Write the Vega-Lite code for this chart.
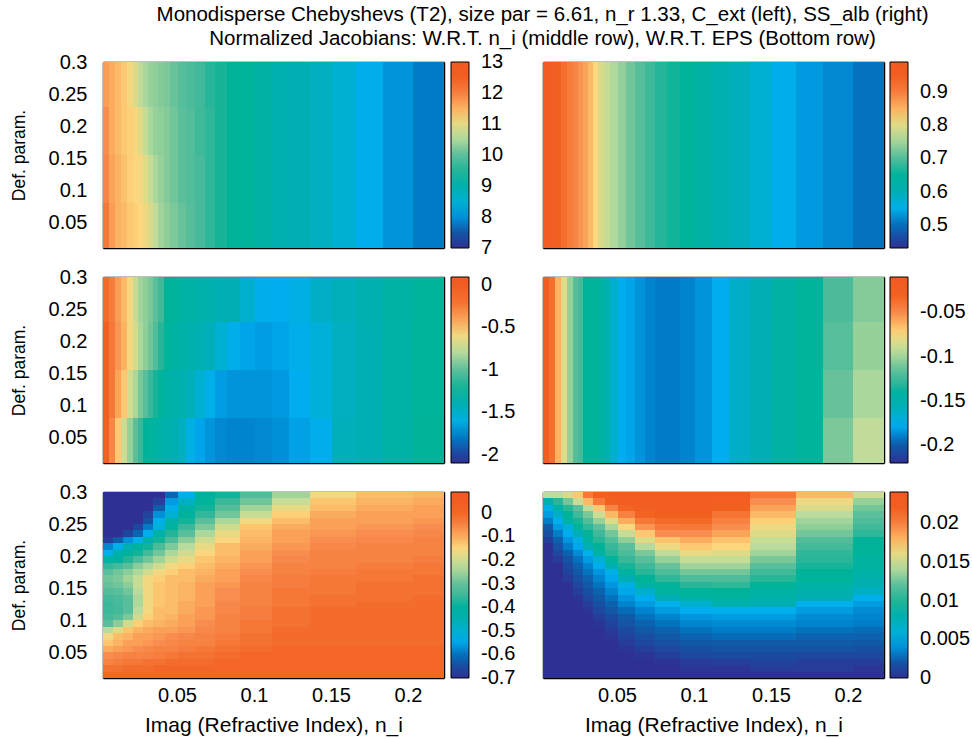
{"$schema":"https://vega.github.io/schema/vega-lite/v6.json","padding":{"left":10,"top":4,"right":0,"bottom":6},"background":"white",
"title":{"text":["Monodisperse Chebyshevs (T2), size par = 6.61, n_r 1.33, C_ext (left), SS_alb (right)","Normalized Jacobians: W.R.T. n_i (middle row), W.R.T. EPS (Bottom row)"],"fontSize":20.5,"font":"Liberation Sans","fontWeight":"normal","color":"black","anchor":"middle","dx":52,"offset":3,"lineHeight":24},
"config":{"font":"Liberation Sans","view":{"stroke":null},"range":{"heatmap":["#2e3192","#0f5ba8","#00aeef","#00aeb4","#00b398","#5cbf9c","#bcdc9e","#fdd67e","#f88d4f","#f2601f","#f15a24"],"ramp":["#2e3192","#0f5ba8","#00aeef","#00aeb4","#00b398","#5cbf9c","#bcdc9e","#fdd67e","#f88d4f","#f2601f","#f15a24"]},"axis":{"grid":false,"domain":true,"domainColor":"black","domainWidth":1.5,"zindex":1,"tickColor":"black","tickSize":-12,"tickWidth":1,"labelFontSize":20,"labelColor":"black","titleColor":"black","titleFontWeight":"normal","labelFlush":false,"labelBound":false,"labelOverlap":false},"axisX":{"labelPadding":19,"titlePadding":9,"titleFontSize":21},"axisY":{"labelPadding":28,"titlePadding":20,"titleFontSize":17.5},"legend":{"gradientLength":186,"gradientThickness":18,"gradientStrokeColor":"black","gradientStrokeWidth":1,"labelFontSize":20,"labelColor":"black","padding":0,"offset":6,"title":null}},
"datasets":{"cols":[{"c":1,"x":0.0021,"x2":0.0086},{"c":2,"x":0.0086,"x2":0.0151},{"c":3,"x":0.0151,"x2":0.0216},{"c":4,"x":0.0216,"x2":0.0281},{"c":5,"x":0.0281,"x2":0.0346},{"c":6,"x":0.0346,"x2":0.0424},{"c":7,"x":0.0424,"x2":0.0508},{"c":8,"x":0.0508,"x2":0.0618},{"c":9,"x":0.0618,"x2":0.0748},{"c":10,"x":0.0748,"x2":0.0911},{"c":11,"x":0.0911,"x2":0.1118},{"c":12,"x":0.1118,"x2":0.1365},{"c":13,"x":0.1365,"x2":0.1664},{"c":14,"x":0.1664,"x2":0.2034},{"c":15,"x":0.2034,"x2":0.2235},{"c":16,"x":0.0021,"x2":0.2235},
{"c":21,"x":0.0021,"x2":0.006},{"c":22,"x":0.006,"x2":0.0099},{"c":23,"x":0.0099,"x2":0.0138},{"c":24,"x":0.0138,"x2":0.0177},{"c":25,"x":0.0177,"x2":0.0216},{"c":26,"x":0.0216,"x2":0.0248},{"c":27,"x":0.0248,"x2":0.0281},{"c":28,"x":0.0281,"x2":0.0313},{"c":29,"x":0.0313,"x2":0.0346},{"c":30,"x":0.0346,"x2":0.0378},{"c":31,"x":0.0378,"x2":0.0417},{"c":32,"x":0.0417,"x2":0.0456},{"c":33,"x":0.0456,"x2":0.0508},{"c":34,"x":0.0508,"x2":0.056},{"c":35,"x":0.056,"x2":0.0618},{"c":36,"x":0.0618,"x2":0.0683},{"c":37,"x":0.0683,"x2":0.0748},{"c":38,"x":0.0748,"x2":0.0826},{"c":39,"x":0.0826,"x2":0.0911},{"c":40,"x":0.0911,"x2":0.1008},{"c":41,"x":0.1008,"x2":0.1118},{"c":42,"x":0.1118,"x2":0.1229},{"c":43,"x":0.1229,"x2":0.1365},{"c":44,"x":0.1365,"x2":0.1508},{"c":45,"x":0.1508,"x2":0.1664},{"c":46,"x":0.1664,"x2":0.1839},{"c":47,"x":0.1839,"x2":0.2034},{"c":48,"x":0.2034,"x2":0.2235},
{"c":52,"x":0.0021,"x2":0.0151},{"c":53,"x":0.0021,"x2":0.0216},{"c":54,"x":0.0021,"x2":0.0281},{"c":55,"x":0.0021,"x2":0.0346},{"c":56,"x":0.0021,"x2":0.0424},{"c":57,"x":0.0021,"x2":0.0508},{"c":58,"x":0.0021,"x2":0.0618},{"c":59,"x":0.0021,"x2":0.0748},{"c":60,"x":0.0021,"x2":0.0911}],
"bands":[{"d":1,"y":0.01,"y2":0.02},{"d":2,"y":0.02,"y2":0.03},{"d":3,"y":0.03,"y2":0.04},{"d":4,"y":0.04,"y2":0.05},{"d":5,"y":0.05,"y2":0.06},{"d":6,"y":0.06,"y2":0.07},{"d":7,"y":0.07,"y2":0.08},{"d":8,"y":0.08,"y2":0.09},{"d":9,"y":0.09,"y2":0.1},{"d":10,"y":0.1,"y2":0.11},{"d":11,"y":0.11,"y2":0.12},{"d":12,"y":0.12,"y2":0.13},{"d":13,"y":0.13,"y2":0.14},{"d":14,"y":0.14,"y2":0.15},{"d":15,"y":0.15,"y2":0.16},{"d":16,"y":0.16,"y2":0.17},{"d":17,"y":0.17,"y2":0.18},{"d":18,"y":0.18,"y2":0.19},{"d":19,"y":0.19,"y2":0.2},{"d":20,"y":0.2,"y2":0.21},{"d":21,"y":0.21,"y2":0.22},{"d":22,"y":0.22,"y2":0.23},{"d":23,"y":0.23,"y2":0.24},{"d":24,"y":0.24,"y2":0.25},{"d":25,"y":0.25,"y2":0.26},{"d":26,"y":0.26,"y2":0.27},{"d":27,"y":0.27,"y2":0.28},{"d":28,"y":0.28,"y2":0.29},{"d":29,"y":0.29,"y2":0.3},{"d":31,"y":0.01,"y2":0.08},{"d":32,"y":0.08,"y2":0.155},{"d":33,"y":0.155,"y2":0.23},{"d":34,"y":0.23,"y2":0.3},{"d":35,"y":0.01,"y2":0.3}],
"p1":[{"c":21,"d":34,"v":11.68},{"c":22,"d":34,"v":11.56},{"c":23,"d":34,"v":11.44},{"c":24,"d":34,"v":11.32},{"c":25,"d":34,"v":11.14},{"c":26,"d":34,"v":10.9},{"c":27,"d":34,"v":10.66},{"c":28,"d":34,"v":10.48},{"c":29,"d":34,"v":10.36},{"c":30,"d":34,"v":10.3},{"c":31,"d":34,"v":10.24},{"c":32,"d":34,"v":10.18},{"c":33,"d":34,"v":10.06},{"c":34,"d":34,"v":9.94},{"c":35,"d":34,"v":9.82},{"c":36,"d":34,"v":9.7},{"c":37,"d":34,"v":9.52},
{"c":21,"d":33,"v":11.8},{"c":22,"d":33,"v":11.56},{"c":23,"d":33,"v":11.44},{"c":24,"d":33,"v":11.32},{"c":25,"d":33,"v":11.26},{"c":26,"d":33,"v":11.14},{"c":27,"d":33,"v":10.96},{"c":28,"d":33,"v":10.72},{"c":29,"d":33,"v":10.48},{"c":30,"d":33,"v":10.36},{"c":31,"d":33,"v":10.3},{"c":32,"d":33,"v":10.24},{"c":33,"d":33,"v":10.12},{"c":34,"d":33,"v":10},{"c":35,"d":33,"v":9.88},{"c":36,"d":33,"v":9.7},{"c":37,"d":33,"v":9.58},
{"c":21,"d":32,"v":11.92},{"c":22,"d":32,"v":11.62},{"c":23,"d":32,"v":11.5},{"c":24,"d":32,"v":11.38},{"c":25,"d":32,"v":11.26},{"c":26,"d":32,"v":11.2},{"c":27,"d":32,"v":11.14},{"c":28,"d":32,"v":10.96},{"c":29,"d":32,"v":10.72},{"c":30,"d":32,"v":10.48},{"c":31,"d":32,"v":10.36},{"c":32,"d":32,"v":10.24},{"c":33,"d":32,"v":10.12},{"c":34,"d":32,"v":10},{"c":35,"d":32,"v":9.88},{"c":36,"d":32,"v":9.76},{"c":37,"d":32,"v":9.58},
{"c":21,"d":31,"v":12.1},{"c":22,"d":31,"v":11.68},{"c":23,"d":31,"v":11.5},{"c":24,"d":31,"v":11.44},{"c":25,"d":31,"v":11.32},{"c":26,"d":31,"v":11.26},{"c":27,"d":31,"v":11.2},{"c":28,"d":31,"v":11.08},{"c":29,"d":31,"v":10.9},{"c":30,"d":31,"v":10.66},{"c":31,"d":31,"v":10.42},{"c":32,"d":31,"v":10.3},{"c":33,"d":31,"v":10.18},{"c":34,"d":31,"v":10.06},{"c":35,"d":31,"v":9.94},{"c":36,"d":31,"v":9.76},{"c":37,"d":31,"v":9.58},
{"c":38,"d":35,"v":9.46},{"c":39,"d":35,"v":9.4},{"c":40,"d":35,"v":9.34},{"c":41,"d":35,"v":9.16},{"c":42,"d":35,"v":8.92},{"c":43,"d":35,"v":8.8},{"c":44,"d":35,"v":8.68},{"c":45,"d":35,"v":8.5},{"c":46,"d":35,"v":8.23},{"c":47,"d":35,"v":8.02},{"c":48,"d":35,"v":7.84}],
"p2":[{"c":21,"d":35,"v":0.968},{"c":22,"d":35,"v":0.962},{"c":23,"d":35,"v":0.934},{"c":24,"d":35,"v":0.917},{"c":25,"d":35,"v":0.9},{"c":26,"d":35,"v":0.889},{"c":27,"d":35,"v":0.872},{"c":28,"d":35,"v":0.861},{"c":29,"d":35,"v":0.844},{"c":30,"d":35,"v":0.822},{"c":31,"d":35,"v":0.794},{"c":32,"d":35,"v":0.777},{"c":33,"d":35,"v":0.758},{"c":34,"d":35,"v":0.741},{"c":35,"d":35,"v":0.721},{"c":36,"d":35,"v":0.704},{"c":37,"d":35,"v":0.682},{"c":38,"d":35,"v":0.665},{"c":39,"d":35,"v":0.657},{"c":40,"d":35,"v":0.648},{"c":41,"d":35,"v":0.632},{"c":42,"d":35,"v":0.609},{"c":43,"d":35,"v":0.592},{"c":44,"d":35,"v":0.57},{"c":45,"d":35,"v":0.545},{"c":46,"d":35,"v":0.528},{"c":47,"d":35,"v":0.517},{"c":48,"d":35,"v":0.503}],
"p3":[{"c":21,"d":34,"v":-0.168},{"c":22,"d":34,"v":-0.256},{"c":23,"d":34,"v":-0.388},{"c":24,"d":34,"v":-0.476},{"c":25,"d":34,"v":-0.585},{"c":26,"d":34,"v":-0.739},{"c":27,"d":34,"v":-0.849},{"c":28,"d":34,"v":-0.893},{"c":29,"d":34,"v":-0.937},{"c":30,"d":34,"v":-1.003},{"c":31,"d":34,"v":-1.112},{"c":32,"d":34,"v":-1.222},{"c":33,"d":34,"v":-1.244},{"c":34,"d":34,"v":-1.288},{"c":35,"d":34,"v":-1.31},{"c":36,"d":34,"v":-1.354},{"c":37,"d":34,"v":-1.376},{"c":38,"d":34,"v":-1.42},{"c":39,"d":34,"v":-1.442},{"c":40,"d":34,"v":-1.529},{"c":41,"d":34,"v":-1.65},{"c":42,"d":34,"v":-1.661},{"c":43,"d":34,"v":-1.617},{"c":44,"d":34,"v":-1.507},{"c":45,"d":34,"v":-1.463},{"c":46,"d":34,"v":-1.398},{"c":47,"d":34,"v":-1.288},{"c":48,"d":34,"v":-1.244},
{"c":21,"d":33,"v":-0.125},{"c":22,"d":33,"v":-0.234},{"c":23,"d":33,"v":-0.366},{"c":24,"d":33,"v":-0.454},{"c":25,"d":33,"v":-0.585},{"c":26,"d":33,"v":-0.695},{"c":27,"d":33,"v":-0.827},{"c":28,"d":33,"v":-0.893},{"c":29,"d":33,"v":-0.959},{"c":30,"d":33,"v":-1.046},{"c":31,"d":33,"v":-1.178},{"c":32,"d":33,"v":-1.244},{"c":33,"d":33,"v":-1.288},{"c":34,"d":33,"v":-1.332},{"c":35,"d":33,"v":-1.376},{"c":36,"d":33,"v":-1.42},{"c":37,"d":33,"v":-1.463},{"c":38,"d":33,"v":-1.551},{"c":39,"d":33,"v":-1.639},{"c":40,"d":33,"v":-1.683},{"c":41,"d":33,"v":-1.705},{"c":42,"d":33,"v":-1.683},{"c":43,"d":33,"v":-1.639},{"c":44,"d":33,"v":-1.573},{"c":45,"d":33,"v":-1.485},{"c":46,"d":33,"v":-1.42},{"c":47,"d":33,"v":-1.31},{"c":48,"d":33,"v":-1.244},
{"c":21,"d":32,"v":-0.125},{"c":22,"d":32,"v":-0.234},{"c":23,"d":32,"v":-0.41},{"c":24,"d":32,"v":-0.52},{"c":25,"d":32,"v":-0.695},{"c":26,"d":32,"v":-0.827},{"c":27,"d":32,"v":-0.937},{"c":28,"d":32,"v":-1.024},{"c":29,"d":32,"v":-1.134},{"c":30,"d":32,"v":-1.2},{"c":31,"d":32,"v":-1.244},{"c":32,"d":32,"v":-1.31},{"c":33,"d":32,"v":-1.354},{"c":34,"d":32,"v":-1.398},{"c":35,"d":32,"v":-1.463},{"c":36,"d":32,"v":-1.551},{"c":37,"d":32,"v":-1.639},{"c":38,"d":32,"v":-1.705},{"c":39,"d":32,"v":-1.727},{"c":40,"d":32,"v":-1.727},{"c":41,"d":32,"v":-1.727},{"c":42,"d":32,"v":-1.716},{"c":43,"d":32,"v":-1.661},{"c":44,"d":32,"v":-1.573},{"c":45,"d":32,"v":-1.485},{"c":46,"d":32,"v":-1.42},{"c":47,"d":32,"v":-1.31},{"c":48,"d":32,"v":-1.244},
{"c":21,"d":31,"v":-0.125},{"c":22,"d":31,"v":-0.3},{"c":23,"d":31,"v":-0.52},{"c":24,"d":31,"v":-0.717},{"c":25,"d":31,"v":-0.871},{"c":26,"d":31,"v":-1.003},{"c":27,"d":31,"v":-1.134},{"c":28,"d":31,"v":-1.222},{"c":29,"d":31,"v":-1.244},{"c":30,"d":31,"v":-1.288},{"c":31,"d":31,"v":-1.332},{"c":32,"d":31,"v":-1.376},{"c":33,"d":31,"v":-1.42},{"c":34,"d":31,"v":-1.485},{"c":35,"d":31,"v":-1.617},{"c":36,"d":31,"v":-1.683},{"c":37,"d":31,"v":-1.727},{"c":38,"d":31,"v":-1.76},{"c":39,"d":31,"v":-1.771},{"c":40,"d":31,"v":-1.771},{"c":41,"d":31,"v":-1.76},{"c":42,"d":31,"v":-1.738},{"c":43,"d":31,"v":-1.694},{"c":44,"d":31,"v":-1.65},{"c":45,"d":31,"v":-1.463},{"c":46,"d":31,"v":-1.42},{"c":47,"d":31,"v":-1.31},{"c":48,"d":31,"v":-1.222}],
"p4":[{"c":21,"d":35,"v":-0.0247},{"c":22,"d":35,"v":-0.0373},{"c":23,"d":35,"v":-0.0625},{"c":24,"d":35,"v":-0.0814},{"c":25,"d":35,"v":-0.1024},{"c":26,"d":35,"v":-0.1171},{"c":27,"d":35,"v":-0.1234},{"c":28,"d":35,"v":-0.136},{"c":29,"d":35,"v":-0.136},{"c":30,"d":35,"v":-0.136},{"c":31,"d":35,"v":-0.1423},{"c":32,"d":35,"v":-0.1528},{"c":33,"d":35,"v":-0.1654},{"c":34,"d":35,"v":-0.178},{"c":35,"d":35,"v":-0.1801},{"c":36,"d":35,"v":-0.1843},{"c":37,"d":35,"v":-0.1885},{"c":38,"d":35,"v":-0.1906},{"c":39,"d":35,"v":-0.1906},{"c":40,"d":35,"v":-0.1885},{"c":41,"d":35,"v":-0.1843},{"c":42,"d":35,"v":-0.178},{"c":43,"d":35,"v":-0.1633},{"c":44,"d":35,"v":-0.157},{"c":45,"d":35,"v":-0.1444},{"c":46,"d":35,"v":-0.1381},
{"c":47,"d":34,"v":-0.1213},{"c":47,"d":33,"v":-0.1171},{"c":47,"d":32,"v":-0.1129},{"c":47,"d":31,"v":-0.1087},{"c":48,"d":34,"v":-0.1066},{"c":48,"d":33,"v":-0.1024},{"c":48,"d":32,"v":-0.0982},{"c":48,"d":31,"v":-0.0919}],
"p5":[{"c":56,"d":29,"v":-0.7},{"c":7,"d":29,"v":-0.61},{"c":8,"d":29,"v":-0.53},{"c":9,"d":29,"v":-0.4},{"c":10,"d":29,"v":-0.38},{"c":11,"d":29,"v":-0.32},{"c":12,"d":29,"v":-0.25},{"c":13,"d":29,"v":-0.16},{"c":14,"d":29,"v":-0.12},{"c":15,"d":29,"v":-0.11},
{"c":55,"d":28,"v":-0.7},{"c":6,"d":28,"v":-0.67},{"c":7,"d":28,"v":-0.56},{"c":8,"d":28,"v":-0.48},{"c":9,"d":28,"v":-0.39},{"c":10,"d":28,"v":-0.35},{"c":11,"d":28,"v":-0.29},{"c":12,"d":28,"v":-0.21},{"c":13,"d":28,"v":-0.13},{"c":14,"d":28,"v":-0.11},{"c":15,"d":28,"v":-0.1},
{"c":55,"d":27,"v":-0.7},{"c":6,"d":27,"v":-0.62},{"c":7,"d":27,"v":-0.53},{"c":8,"d":27,"v":-0.42},{"c":9,"d":27,"v":-0.38},{"c":10,"d":27,"v":-0.32},{"c":11,"d":27,"v":-0.25},{"c":12,"d":27,"v":-0.17},{"c":13,"d":27,"v":-0.12},{"c":14,"d":27,"v":-0.1},{"c":15,"d":27,"v":-0.09},
{"c":54,"d":26,"v":-0.7},{"c":5,"d":26,"v":-0.67},{"c":6,"d":26,"v":-0.57},{"c":7,"d":26,"v":-0.5},{"c":8,"d":26,"v":-0.4},{"c":9,"d":26,"v":-0.36},{"c":10,"d":26,"v":-0.29},{"c":11,"d":26,"v":-0.21},{"c":12,"d":26,"v":-0.14},{"c":13,"d":26,"v":-0.1},{"c":14,"d":26,"v":-0.09},{"c":15,"d":26,"v":-0.09},
{"c":54,"d":25,"v":-0.7},{"c":5,"d":25,"v":-0.64},{"c":6,"d":25,"v":-0.53},{"c":7,"d":25,"v":-0.42},{"c":8,"d":25,"v":-0.38},{"c":9,"d":25,"v":-0.31},{"c":10,"d":25,"v":-0.24},{"c":11,"d":25,"v":-0.16},{"c":12,"d":25,"v":-0.12},{"c":13,"d":25,"v":-0.09},{"c":14,"d":25,"v":-0.09},{"c":15,"d":25,"v":-0.08},
{"c":53,"d":24,"v":-0.7},{"c":4,"d":24,"v":-0.66},{"c":5,"d":24,"v":-0.59},{"c":6,"d":24,"v":-0.51},{"c":7,"d":24,"v":-0.4},{"c":8,"d":24,"v":-0.35},{"c":9,"d":24,"v":-0.28},{"c":10,"d":24,"v":-0.2},{"c":11,"d":24,"v":-0.13},{"c":12,"d":24,"v":-0.1},{"c":13,"d":24,"v":-0.09},{"c":14,"d":24,"v":-0.08},{"c":15,"d":24,"v":-0.07},
{"c":52,"d":23,"v":-0.7},{"c":3,"d":23,"v":-0.66},{"c":4,"d":23,"v":-0.61},{"c":5,"d":23,"v":-0.54},{"c":6,"d":23,"v":-0.42},{"c":7,"d":23,"v":-0.37},{"c":8,"d":23,"v":-0.31},{"c":9,"d":23,"v":-0.24},{"c":10,"d":23,"v":-0.17},{"c":11,"d":23,"v":-0.12},{"c":12,"d":23,"v":-0.09},{"c":13,"d":23,"v":-0.08},{"c":14,"d":23,"v":-0.07},{"c":15,"d":23,"v":-0.06},
{"c":1,"d":22,"v":-0.68},{"c":2,"d":22,"v":-0.62},{"c":3,"d":22,"v":-0.57},{"c":4,"d":22,"v":-0.53},{"c":5,"d":22,"v":-0.43},{"c":6,"d":22,"v":-0.38},{"c":7,"d":22,"v":-0.33},{"c":8,"d":22,"v":-0.27},{"c":9,"d":22,"v":-0.2},{"c":10,"d":22,"v":-0.15},{"c":11,"d":22,"v":-0.11},{"c":12,"d":22,"v":-0.09},{"c":13,"d":22,"v":-0.07},{"c":14,"d":22,"v":-0.06},{"c":15,"d":22,"v":-0.05},
{"c":1,"d":21,"v":-0.58},{"c":2,"d":21,"v":-0.53},{"c":3,"d":21,"v":-0.45},{"c":4,"d":21,"v":-0.4},{"c":5,"d":21,"v":-0.38},{"c":6,"d":21,"v":-0.33},{"c":7,"d":21,"v":-0.28},{"c":8,"d":21,"v":-0.23},{"c":9,"d":21,"v":-0.17},{"c":10,"d":21,"v":-0.12},{"c":11,"d":21,"v":-0.1},{"c":12,"d":21,"v":-0.08},{"c":13,"d":21,"v":-0.06},{"c":14,"d":21,"v":-0.05},{"c":15,"d":21,"v":-0.05},
{"c":1,"d":20,"v":-0.53},{"c":2,"d":20,"v":-0.44},{"c":3,"d":20,"v":-0.4},{"c":4,"d":20,"v":-0.38},{"c":5,"d":20,"v":-0.34},{"c":6,"d":20,"v":-0.29},{"c":7,"d":20,"v":-0.24},{"c":8,"d":20,"v":-0.2},{"c":9,"d":20,"v":-0.15},{"c":10,"d":20,"v":-0.12},{"c":11,"d":20,"v":-0.09},{"c":12,"d":20,"v":-0.07},{"c":13,"d":20,"v":-0.05},{"c":14,"d":20,"v":-0.05},{"c":15,"d":20,"v":-0.05},
{"c":1,"d":19,"v":-0.42},{"c":2,"d":19,"v":-0.4},{"c":3,"d":19,"v":-0.37},{"c":4,"d":19,"v":-0.33},{"c":5,"d":19,"v":-0.29},{"c":6,"d":19,"v":-0.25},{"c":7,"d":19,"v":-0.2},{"c":8,"d":19,"v":-0.17},{"c":9,"d":19,"v":-0.13},{"c":10,"d":19,"v":-0.11},{"c":11,"d":19,"v":-0.09},{"c":12,"d":19,"v":-0.06},{"c":13,"d":19,"v":-0.05},{"c":14,"d":19,"v":-0.05},{"c":15,"d":19,"v":-0.04},
{"c":1,"d":18,"v":-0.36},{"c":2,"d":18,"v":-0.34},{"c":3,"d":18,"v":-0.31},{"c":4,"d":18,"v":-0.27},{"c":5,"d":18,"v":-0.24},{"c":6,"d":18,"v":-0.2},{"c":7,"d":18,"v":-0.16},{"c":8,"d":18,"v":-0.14},{"c":9,"d":18,"v":-0.12},{"c":10,"d":18,"v":-0.1},{"c":11,"d":18,"v":-0.08},{"c":12,"d":18,"v":-0.05},{"c":13,"d":18,"v":-0.05},{"c":14,"d":18,"v":-0.04},{"c":15,"d":18,"v":-0.03},
{"c":1,"d":17,"v":-0.31},{"c":2,"d":17,"v":-0.29},{"c":3,"d":17,"v":-0.27},{"c":4,"d":17,"v":-0.24},{"c":5,"d":17,"v":-0.2},{"c":6,"d":17,"v":-0.16},{"c":7,"d":17,"v":-0.14},{"c":8,"d":17,"v":-0.12},{"c":9,"d":17,"v":-0.11},{"c":10,"d":17,"v":-0.09},{"c":11,"d":17,"v":-0.07},{"c":12,"d":17,"v":-0.05},{"c":13,"d":17,"v":-0.04},{"c":14,"d":17,"v":-0.03},{"c":15,"d":17,"v":-0.03},
{"c":1,"d":16,"v":-0.29},{"c":2,"d":16,"v":-0.28},{"c":3,"d":16,"v":-0.25},{"c":4,"d":16,"v":-0.21},{"c":5,"d":16,"v":-0.16},{"c":6,"d":16,"v":-0.14},{"c":7,"d":16,"v":-0.12},{"c":8,"d":16,"v":-0.12},{"c":9,"d":16,"v":-0.1},{"c":10,"d":16,"v":-0.09},{"c":11,"d":16,"v":-0.06},{"c":12,"d":16,"v":-0.04},{"c":13,"d":16,"v":-0.03},{"c":14,"d":16,"v":-0.03},{"c":15,"d":16,"v":-0.02},
{"c":1,"d":15,"v":-0.3},{"c":2,"d":15,"v":-0.29},{"c":3,"d":15,"v":-0.27},{"c":4,"d":15,"v":-0.21},{"c":5,"d":15,"v":-0.16},{"c":6,"d":15,"v":-0.13},{"c":7,"d":15,"v":-0.12},{"c":8,"d":15,"v":-0.11},{"c":9,"d":15,"v":-0.09},{"c":10,"d":15,"v":-0.08},{"c":11,"d":15,"v":-0.05},{"c":12,"d":15,"v":-0.04},{"c":13,"d":15,"v":-0.03},{"c":14,"d":15,"v":-0.02},{"c":15,"d":15,"v":-0.02},
{"c":1,"d":14,"v":-0.32},{"c":2,"d":14,"v":-0.31},{"c":3,"d":14,"v":-0.29},{"c":4,"d":14,"v":-0.23},{"c":5,"d":14,"v":-0.16},{"c":6,"d":14,"v":-0.13},{"c":7,"d":14,"v":-0.12},{"c":8,"d":14,"v":-0.11},{"c":9,"d":14,"v":-0.09},{"c":10,"d":14,"v":-0.07},{"c":11,"d":14,"v":-0.05},{"c":12,"d":14,"v":-0.03},{"c":13,"d":14,"v":-0.03},{"c":14,"d":14,"v":-0.02},{"c":15,"d":14,"v":-0.02},
{"c":1,"d":13,"v":-0.34},{"c":2,"d":13,"v":-0.33},{"c":3,"d":13,"v":-0.31},{"c":4,"d":13,"v":-0.24},{"c":5,"d":13,"v":-0.16},{"c":6,"d":13,"v":-0.13},{"c":7,"d":13,"v":-0.12},{"c":8,"d":13,"v":-0.11},{"c":9,"d":13,"v":-0.09},{"c":10,"d":13,"v":-0.07},{"c":11,"d":13,"v":-0.05},{"c":12,"d":13,"v":-0.03},{"c":13,"d":13,"v":-0.02},{"c":14,"d":13,"v":-0.02},{"c":15,"d":13,"v":-0.01},
{"c":1,"d":12,"v":-0.35},{"c":2,"d":12,"v":-0.34},{"c":3,"d":12,"v":-0.31},{"c":4,"d":12,"v":-0.24},{"c":5,"d":12,"v":-0.16},{"c":6,"d":12,"v":-0.13},{"c":7,"d":12,"v":-0.12},{"c":8,"d":12,"v":-0.1},{"c":9,"d":12,"v":-0.09},{"c":10,"d":12,"v":-0.06},{"c":11,"d":12,"v":-0.05},{"c":12,"d":12,"v":-0.03},{"c":13,"d":12,"v":-0.02},{"c":14,"d":12,"v":-0.01},{"c":15,"d":12,"v":-0.01},
{"c":1,"d":11,"v":-0.35},{"c":2,"d":11,"v":-0.34},{"c":3,"d":11,"v":-0.31},{"c":4,"d":11,"v":-0.23},{"c":5,"d":11,"v":-0.16},{"c":6,"d":11,"v":-0.12},{"c":7,"d":11,"v":-0.12},{"c":8,"d":11,"v":-0.1},{"c":9,"d":11,"v":-0.08},{"c":10,"d":11,"v":-0.06},{"c":11,"d":11,"v":-0.04},{"c":12,"d":11,"v":-0.02},{"c":13,"d":11,"v":-0.01},{"c":14,"d":11,"v":-0.01},{"c":15,"d":11,"v":-0.01},
{"c":1,"d":10,"v":-0.34},{"c":2,"d":10,"v":-0.32},{"c":3,"d":10,"v":-0.28},{"c":4,"d":10,"v":-0.2},{"c":5,"d":10,"v":-0.14},{"c":6,"d":10,"v":-0.12},{"c":7,"d":10,"v":-0.11},{"c":8,"d":10,"v":-0.09},{"c":9,"d":10,"v":-0.08},{"c":10,"d":10,"v":-0.05},{"c":11,"d":10,"v":-0.04},{"c":12,"d":10,"v":-0.02},{"c":13,"d":10,"v":-0.01},{"c":14,"d":10,"v":-0.01},{"c":15,"d":10,"v":-0.01},
{"c":1,"d":9,"v":-0.31},{"c":2,"d":9,"v":-0.27},{"c":3,"d":9,"v":-0.2},{"c":4,"d":9,"v":-0.14},{"c":5,"d":9,"v":-0.12},{"c":6,"d":9,"v":-0.11},{"c":7,"d":9,"v":-0.1},{"c":8,"d":9,"v":-0.09},{"c":9,"d":9,"v":-0.07},{"c":10,"d":9,"v":-0.05},{"c":11,"d":9,"v":-0.03},{"c":12,"d":9,"v":-0.02},{"c":13,"d":9,"v":-0.01},{"c":14,"d":9,"v":-0.01},{"c":15,"d":9,"v":-0.01},
{"c":1,"d":8,"v":-0.23},{"c":2,"d":8,"v":-0.18},{"c":3,"d":8,"v":-0.13},{"c":4,"d":8,"v":-0.11},{"c":5,"d":8,"v":-0.1},{"c":6,"d":8,"v":-0.09},{"c":7,"d":8,"v":-0.09},{"c":8,"d":8,"v":-0.08},{"c":9,"d":8,"v":-0.06},{"c":10,"d":8,"v":-0.05},{"c":11,"d":8,"v":-0.03},{"c":12,"d":8,"v":-0.01},{"c":13,"d":8,"v":-0.01},{"c":14,"d":8,"v":-0.01},{"c":15,"d":8,"v":-0.01},
{"c":1,"d":7,"v":-0.16},{"c":2,"d":7,"v":-0.12},{"c":3,"d":7,"v":-0.11},{"c":4,"d":7,"v":-0.09},{"c":5,"d":7,"v":-0.09},{"c":6,"d":7,"v":-0.08},{"c":7,"d":7,"v":-0.07},{"c":8,"d":7,"v":-0.06},{"c":9,"d":7,"v":-0.05},{"c":10,"d":7,"v":-0.04},{"c":11,"d":7,"v":-0.02},{"c":12,"d":7,"v":-0.01},{"c":13,"d":7,"v":-0.01},{"c":14,"d":7,"v":-0.01},{"c":15,"d":7,"v":-0.01},
{"c":1,"d":6,"v":-0.13},{"c":2,"d":6,"v":-0.11},{"c":3,"d":6,"v":-0.09},{"c":4,"d":6,"v":-0.09},{"c":5,"d":6,"v":-0.08},{"c":6,"d":6,"v":-0.07},{"c":7,"d":6,"v":-0.06},{"c":8,"d":6,"v":-0.05},{"c":9,"d":6,"v":-0.05},{"c":10,"d":6,"v":-0.03},{"c":11,"d":6,"v":-0.02},{"c":12,"d":6,"v":-0.01},{"c":13,"d":6,"v":-0.01},{"c":14,"d":6,"v":-0.01},{"c":15,"d":6,"v":-0.01},
{"c":1,"d":5,"v":-0.1},{"c":2,"d":5,"v":-0.09},{"c":3,"d":5,"v":-0.08},{"c":4,"d":5,"v":-0.07},{"c":5,"d":5,"v":-0.06},{"c":6,"d":5,"v":-0.05},{"c":7,"d":5,"v":-0.05},{"c":8,"d":5,"v":-0.04},{"c":9,"d":5,"v":-0.03},{"c":10,"d":5,"v":-0.02},{"c":11,"d":5,"v":-0.01},{"c":12,"d":5,"v":0},{"c":13,"d":5,"v":0},{"c":14,"d":5,"v":0},{"c":15,"d":5,"v":0},
{"c":1,"d":4,"v":-0.07},{"c":2,"d":4,"v":-0.06},{"c":3,"d":4,"v":-0.05},{"c":4,"d":4,"v":-0.05},{"c":5,"d":4,"v":-0.05},{"c":6,"d":4,"v":-0.04},{"c":7,"d":4,"v":-0.03},{"c":8,"d":4,"v":-0.02},{"c":9,"d":4,"v":-0.02},{"c":10,"d":4,"v":-0.01},{"c":11,"d":4,"v":0},{"c":12,"d":4,"v":0},{"c":13,"d":4,"v":0},{"c":14,"d":4,"v":0},{"c":15,"d":4,"v":0},
{"c":1,"d":3,"v":-0.05},{"c":2,"d":3,"v":-0.04},{"c":3,"d":3,"v":-0.03},{"c":4,"d":3,"v":-0.03},{"c":5,"d":3,"v":-0.02},{"c":6,"d":3,"v":-0.02},{"c":7,"d":3,"v":-0.01},{"c":8,"d":3,"v":-0.01},{"c":9,"d":3,"v":-0.01},{"c":10,"d":3,"v":0},{"c":11,"d":3,"v":0},{"c":12,"d":3,"v":0},{"c":13,"d":3,"v":0},{"c":14,"d":3,"v":0},{"c":15,"d":3,"v":0},
{"c":1,"d":2,"v":-0.02},{"c":2,"d":2,"v":-0.02},{"c":3,"d":2,"v":-0.01},{"c":4,"d":2,"v":-0.01},{"c":5,"d":2,"v":-0.01},{"c":6,"d":2,"v":0},{"c":7,"d":2,"v":0},{"c":8,"d":2,"v":0},{"c":9,"d":2,"v":0},{"c":10,"d":2,"v":0},{"c":11,"d":2,"v":0},{"c":12,"d":2,"v":0},{"c":13,"d":2,"v":0},{"c":14,"d":2,"v":0},{"c":15,"d":2,"v":0},
{"c":16,"d":1,"v":0}],
"p6":[{"c":1,"d":29,"v":0.0144},{"c":2,"d":29,"v":0.0144},{"c":3,"d":29,"v":0.0156},{"c":4,"d":29,"v":0.0173},{"c":5,"d":29,"v":0.0204},{"c":6,"d":29,"v":0.0216},{"c":7,"d":29,"v":0.0223},{"c":8,"d":29,"v":0.0226},{"c":9,"d":29,"v":0.0228},{"c":10,"d":29,"v":0.0228},{"c":11,"d":29,"v":0.0228},{"c":12,"d":29,"v":0.0226},{"c":13,"d":29,"v":0.0204},{"c":14,"d":29,"v":0.0178},{"c":15,"d":29,"v":0.0151},
{"c":1,"d":28,"v":0.0072},{"c":2,"d":28,"v":0.0101},{"c":3,"d":28,"v":0.0125},{"c":4,"d":28,"v":0.0149},{"c":5,"d":28,"v":0.0178},{"c":6,"d":28,"v":0.0202},{"c":7,"d":28,"v":0.0216},{"c":8,"d":28,"v":0.0223},{"c":9,"d":28,"v":0.0226},{"c":10,"d":28,"v":0.0226},{"c":11,"d":28,"v":0.0226},{"c":12,"d":28,"v":0.0221},{"c":13,"d":28,"v":0.0192},{"c":14,"d":28,"v":0.0163},{"c":15,"d":28,"v":0.0134},
{"c":1,"d":27,"v":0.0053},{"c":2,"d":27,"v":0.0086},{"c":3,"d":27,"v":0.0101},{"c":4,"d":27,"v":0.012},{"c":5,"d":27,"v":0.0144},{"c":6,"d":27,"v":0.0173},{"c":7,"d":27,"v":0.0197},{"c":8,"d":27,"v":0.0214},{"c":9,"d":27,"v":0.0221},{"c":10,"d":27,"v":0.0223},{"c":11,"d":27,"v":0.0223},{"c":12,"d":27,"v":0.0216},{"c":13,"d":27,"v":0.0185},{"c":14,"d":27,"v":0.0156},{"c":15,"d":27,"v":0.0125},
{"c":1,"d":26,"v":0.0043},{"c":2,"d":26,"v":0.0065},{"c":3,"d":26,"v":0.0094},{"c":4,"d":26,"v":0.0108},{"c":5,"d":26,"v":0.0127},{"c":6,"d":26,"v":0.0151},{"c":7,"d":26,"v":0.0178},{"c":8,"d":26,"v":0.0199},{"c":9,"d":26,"v":0.0214},{"c":10,"d":26,"v":0.0218},{"c":11,"d":26,"v":0.0218},{"c":12,"d":26,"v":0.0206},{"c":13,"d":26,"v":0.0178},{"c":14,"d":26,"v":0.0144},{"c":15,"d":26,"v":0.012},
{"c":1,"d":25,"v":0.0034},{"c":2,"d":25,"v":0.005},{"c":3,"d":25,"v":0.0089},{"c":4,"d":25,"v":0.0098},{"c":5,"d":25,"v":0.0115},{"c":6,"d":25,"v":0.0134},{"c":7,"d":25,"v":0.0158},{"c":8,"d":25,"v":0.0182},{"c":9,"d":25,"v":0.0204},{"c":10,"d":25,"v":0.0211},{"c":11,"d":25,"v":0.0211},{"c":12,"d":25,"v":0.0199},{"c":13,"d":25,"v":0.017},{"c":14,"d":25,"v":0.0137},{"c":15,"d":25,"v":0.0113},
{"c":1,"d":24,"v":0.0024},{"c":2,"d":24,"v":0.0043},{"c":3,"d":24,"v":0.0058},{"c":4,"d":24,"v":0.0094},{"c":5,"d":24,"v":0.0103},{"c":6,"d":24,"v":0.012},{"c":7,"d":24,"v":0.0139},{"c":8,"d":24,"v":0.0166},{"c":9,"d":24,"v":0.019},{"c":10,"d":24,"v":0.0202},{"c":11,"d":24,"v":0.0204},{"c":12,"d":24,"v":0.0192},{"c":13,"d":24,"v":0.0163},{"c":14,"d":24,"v":0.0132},{"c":15,"d":24,"v":0.0108},
{"c":1,"d":23,"v":0.0017},{"c":2,"d":23,"v":0.0034},{"c":3,"d":23,"v":0.0048},{"c":4,"d":23,"v":0.0072},{"c":5,"d":23,"v":0.0096},{"c":6,"d":23,"v":0.0108},{"c":7,"d":23,"v":0.0125},{"c":8,"d":23,"v":0.0149},{"c":9,"d":23,"v":0.0173},{"c":10,"d":23,"v":0.0192},{"c":11,"d":23,"v":0.0192},{"c":12,"d":23,"v":0.0185},{"c":13,"d":23,"v":0.0158},{"c":14,"d":23,"v":0.0125},{"c":15,"d":23,"v":0.0103},
{"c":1,"d":22,"v":0.0007},{"c":2,"d":22,"v":0.0026},{"c":3,"d":22,"v":0.0041},{"c":4,"d":22,"v":0.0053},{"c":5,"d":22,"v":0.0091},{"c":6,"d":22,"v":0.0101},{"c":7,"d":22,"v":0.0115},{"c":8,"d":22,"v":0.0132},{"c":9,"d":22,"v":0.0158},{"c":10,"d":22,"v":0.0175},{"c":11,"d":22,"v":0.0182},{"c":12,"d":22,"v":0.0175},{"c":13,"d":22,"v":0.0149},{"c":14,"d":22,"v":0.0115},{"c":15,"d":22,"v":0.0096},
{"c":1,"d":21,"v":0},{"c":2,"d":21,"v":0.0019},{"c":3,"d":21,"v":0.0034},{"c":4,"d":21,"v":0.0046},{"c":5,"d":21,"v":0.0072},{"c":6,"d":21,"v":0.0096},{"c":7,"d":21,"v":0.0106},{"c":8,"d":21,"v":0.012},{"c":9,"d":21,"v":0.0142},{"c":10,"d":21,"v":0.0163},{"c":11,"d":21,"v":0.0173},{"c":12,"d":21,"v":0.0168},{"c":13,"d":21,"v":0.0144},{"c":14,"d":21,"v":0.011},{"c":15,"d":21,"v":0.0096},
{"c":1,"d":20,"v":0},{"c":2,"d":20,"v":0.0012},{"c":3,"d":20,"v":0.0026},{"c":4,"d":20,"v":0.0038},{"c":5,"d":20,"v":0.005},{"c":6,"d":20,"v":0.0089},{"c":7,"d":20,"v":0.0101},{"c":8,"d":20,"v":0.0113},{"c":9,"d":20,"v":0.0127},{"c":10,"d":20,"v":0.0146},{"c":11,"d":20,"v":0.0161},{"c":12,"d":20,"v":0.0158},{"c":13,"d":20,"v":0.0137},{"c":14,"d":20,"v":0.0103},{"c":15,"d":20,"v":0.0094},
{"c":1,"d":19,"v":0},{"c":2,"d":19,"v":0.0005},{"c":3,"d":19,"v":0.0019},{"c":4,"d":19,"v":0.0031},{"c":5,"d":19,"v":0.0043},{"c":6,"d":19,"v":0.0058},{"c":7,"d":19,"v":0.0094},{"c":8,"d":19,"v":0.0106},{"c":9,"d":19,"v":0.0118},{"c":10,"d":19,"v":0.0134},{"c":11,"d":19,"v":0.0149},{"c":12,"d":19,"v":0.0149},{"c":13,"d":19,"v":0.0127},{"c":14,"d":19,"v":0.0101},{"c":15,"d":19,"v":0.0091},
{"c":52,"d":18,"v":0},{"c":3,"d":18,"v":0.0014},{"c":4,"d":18,"v":0.0026},{"c":5,"d":18,"v":0.0036},{"c":6,"d":18,"v":0.0048},{"c":7,"d":18,"v":0.0077},{"c":8,"d":18,"v":0.0098},{"c":9,"d":18,"v":0.0108},{"c":10,"d":18,"v":0.0122},{"c":11,"d":18,"v":0.0137},{"c":12,"d":18,"v":0.0137},{"c":13,"d":18,"v":0.0118},{"c":14,"d":18,"v":0.0098},{"c":15,"d":18,"v":0.0089},
{"c":52,"d":17,"v":0},{"c":3,"d":17,"v":0.001},{"c":4,"d":17,"v":0.0022},{"c":5,"d":17,"v":0.0031},{"c":6,"d":17,"v":0.0041},{"c":7,"d":17,"v":0.0053},{"c":8,"d":17,"v":0.0091},{"c":9,"d":17,"v":0.0101},{"c":10,"d":17,"v":0.0113},{"c":11,"d":17,"v":0.0125},{"c":12,"d":17,"v":0.0125},{"c":13,"d":17,"v":0.0108},{"c":14,"d":17,"v":0.0096},{"c":15,"d":17,"v":0.0086},
{"c":52,"d":16,"v":0},{"c":3,"d":16,"v":0.0005},{"c":4,"d":16,"v":0.0017},{"c":5,"d":16,"v":0.0026},{"c":6,"d":16,"v":0.0036},{"c":7,"d":16,"v":0.0046},{"c":8,"d":16,"v":0.0072},{"c":9,"d":16,"v":0.0096},{"c":10,"d":16,"v":0.0103},{"c":11,"d":16,"v":0.0113},{"c":12,"d":16,"v":0.0113},{"c":13,"d":16,"v":0.0101},{"c":14,"d":16,"v":0.0094},{"c":15,"d":16,"v":0.0079},
{"c":53,"d":15,"v":0},{"c":4,"d":15,"v":0.0012},{"c":5,"d":15,"v":0.0022},{"c":6,"d":15,"v":0.0031},{"c":7,"d":15,"v":0.0041},{"c":8,"d":15,"v":0.0053},{"c":9,"d":15,"v":0.0089},{"c":10,"d":15,"v":0.0096},{"c":11,"d":15,"v":0.0101},{"c":12,"d":15,"v":0.0103},{"c":13,"d":15,"v":0.0096},{"c":14,"d":15,"v":0.0086},{"c":15,"d":15,"v":0.0072},
{"c":53,"d":14,"v":0},{"c":4,"d":14,"v":0.0007},{"c":5,"d":14,"v":0.0017},{"c":6,"d":14,"v":0.0026},{"c":7,"d":14,"v":0.0036},{"c":8,"d":14,"v":0.0046},{"c":9,"d":14,"v":0.0062},{"c":10,"d":14,"v":0.0091},{"c":11,"d":14,"v":0.0094},{"c":12,"d":14,"v":0.0096},{"c":13,"d":14,"v":0.0089},{"c":14,"d":14,"v":0.0082},{"c":15,"d":14,"v":0.0065},
{"c":53,"d":13,"v":0},{"c":4,"d":13,"v":0.0002},{"c":5,"d":13,"v":0.0012},{"c":6,"d":13,"v":0.0022},{"c":7,"d":13,"v":0.0031},{"c":8,"d":13,"v":0.0041},{"c":9,"d":13,"v":0.0048},{"c":10,"d":13,"v":0.0072},{"c":11,"d":13,"v":0.0086},{"c":12,"d":13,"v":0.0089},{"c":13,"d":13,"v":0.0082},{"c":14,"d":13,"v":0.0072},{"c":15,"d":13,"v":0.005},
{"c":54,"d":12,"v":0},{"c":5,"d":12,"v":0.0007},{"c":6,"d":12,"v":0.0017},{"c":7,"d":12,"v":0.0026},{"c":8,"d":12,"v":0.0036},{"c":9,"d":12,"v":0.0043},{"c":10,"d":12,"v":0.005},{"c":11,"d":12,"v":0.0062},{"c":12,"d":12,"v":0.0079},{"c":13,"d":12,"v":0.0072},{"c":14,"d":12,"v":0.005},{"c":15,"d":12,"v":0.0043},
{"c":54,"d":11,"v":0},{"c":5,"d":11,"v":0.0002},{"c":6,"d":11,"v":0.0012},{"c":7,"d":11,"v":0.0022},{"c":8,"d":11,"v":0.0029},{"c":9,"d":11,"v":0.0036},{"c":10,"d":11,"v":0.0043},{"c":11,"d":11,"v":0.0048},{"c":12,"d":11,"v":0.005},{"c":13,"d":11,"v":0.005},{"c":14,"d":11,"v":0.0043},{"c":15,"d":11,"v":0.0038},
{"c":55,"d":10,"v":0},{"c":6,"d":10,"v":0.0007},{"c":7,"d":10,"v":0.0014},{"c":8,"d":10,"v":0.0024},{"c":9,"d":10,"v":0.0031},{"c":10,"d":10,"v":0.0036},{"c":11,"d":10,"v":0.0041},{"c":12,"d":10,"v":0.0043},{"c":13,"d":10,"v":0.0043},{"c":14,"d":10,"v":0.0038},{"c":15,"d":10,"v":0.0036},
{"c":55,"d":9,"v":0},{"c":6,"d":9,"v":0.0002},{"c":7,"d":9,"v":0.001},{"c":8,"d":9,"v":0.0019},{"c":9,"d":9,"v":0.0026},{"c":10,"d":9,"v":0.0031},{"c":11,"d":9,"v":0.0036},{"c":12,"d":9,"v":0.0038},{"c":13,"d":9,"v":0.0038},{"c":14,"d":9,"v":0.0036},{"c":15,"d":9,"v":0.0034},
{"c":56,"d":8,"v":0},{"c":7,"d":8,"v":0.0005},{"c":8,"d":8,"v":0.0014},{"c":9,"d":8,"v":0.0022},{"c":10,"d":8,"v":0.0026},{"c":11,"d":8,"v":0.0031},{"c":12,"d":8,"v":0.0034},{"c":13,"d":8,"v":0.0034},{"c":14,"d":8,"v":0.0031},{"c":15,"d":8,"v":0.0029},
{"c":56,"d":7,"v":0},{"c":7,"d":7,"v":0.0002},{"c":8,"d":7,"v":0.001},{"c":9,"d":7,"v":0.0017},{"c":10,"d":7,"v":0.0022},{"c":11,"d":7,"v":0.0026},{"c":12,"d":7,"v":0.0029},{"c":13,"d":7,"v":0.0029},{"c":14,"d":7,"v":0.0026},{"c":15,"d":7,"v":0.0026},
{"c":57,"d":6,"v":0},{"c":8,"d":6,"v":0.0005},{"c":9,"d":6,"v":0.0012},{"c":10,"d":6,"v":0.0017},{"c":11,"d":6,"v":0.0022},{"c":12,"d":6,"v":0.0024},{"c":13,"d":6,"v":0.0024},{"c":14,"d":6,"v":0.0024},{"c":15,"d":6,"v":0.0022},
{"c":57,"d":5,"v":0},{"c":8,"d":5,"v":0.0002},{"c":9,"d":5,"v":0.0007},{"c":10,"d":5,"v":0.0012},{"c":11,"d":5,"v":0.0017},{"c":12,"d":5,"v":0.0019},{"c":13,"d":5,"v":0.0019},{"c":14,"d":5,"v":0.0019},{"c":15,"d":5,"v":0.0017},
{"c":58,"d":4,"v":0},{"c":9,"d":4,"v":0.0002},{"c":10,"d":4,"v":0.0007},{"c":11,"d":4,"v":0.0012},{"c":12,"d":4,"v":0.0014},{"c":13,"d":4,"v":0.0014},{"c":14,"d":4,"v":0.0012},{"c":15,"d":4,"v":0.0012},
{"c":59,"d":3,"v":0},{"c":10,"d":3,"v":0.0002},{"c":11,"d":3,"v":0.0005},{"c":12,"d":3,"v":0.0007},{"c":13,"d":3,"v":0.001},{"c":14,"d":3,"v":0.0007},{"c":15,"d":3,"v":0.0007},
{"c":60,"d":2,"v":0},{"c":11,"d":2,"v":0.0002},{"c":12,"d":2,"v":0.0002},{"c":13,"d":2,"v":0.0005},{"c":14,"d":2,"v":0.0005},{"c":15,"d":2,"v":0.0002},
{"c":16,"d":1,"v":0}]},
"columns":2,"spacing":{"row":29,"column":99},"bounds":"flush","resolve":{"scale":{"color":"independent"}},
"concat":[
{"width":341,"height":186,"data":{"name":"p1"},"transform":[{"lookup":"c","from":{"data":{"name":"cols"},"key":"c","fields":["x","x2"]}},{"lookup":"d","from":{"data":{"name":"bands"},"key":"d","fields":["y","y2"]}}],"encoding":{"x2":{"field":"x2"},"y2":{"field":"y2"}},
"layer":[{"mark":"rect","encoding":{"x":{"field":"x","type":"quantitative","scale":{"domain":[0.0021,0.2235],"nice":false,"zero":false,"round":true},"axis":{"ticks":false,"labels":false,"title":null}},"y":{"field":"y","type":"quantitative","scale":{"domain":[0.01,0.3],"nice":false,"zero":false,"round":true},"axis":{"values":[0.05,0.1,0.15,0.2,0.25,0.3],"title":"Def. param.","labelExpr":"''+datum.value"}},"color":{"field":"v","type":"quantitative","scale":{"domain":[7,13]},"legend":{"values":[7,8,9,10,11,12,13],"labelExpr":"''+datum.value","encode":{"labels":{"update":{"baseline":{"value":"middle"},"dx":{"value":10}}}}}}}},
{"mark":{"type":"rect","opacity":0},"encoding":{"x":{"field":"x","type":"quantitative","axis":{"orient":"top","ticks":false,"labels":false,"title":null}},"y":{"field":"y","type":"quantitative","axis":{"orient":"right","values":[0.05,0.1,0.15,0.2,0.25,0.3],"labels":false,"title":null}}}}],"resolve":{"axis":{"x":"independent","y":"independent"}}},
{"width":341,"height":186,"data":{"name":"p2"},"transform":[{"lookup":"c","from":{"data":{"name":"cols"},"key":"c","fields":["x","x2"]}},{"lookup":"d","from":{"data":{"name":"bands"},"key":"d","fields":["y","y2"]}}],"encoding":{"x2":{"field":"x2"},"y2":{"field":"y2"}},
"layer":[{"mark":"rect","encoding":{"x":{"field":"x","type":"quantitative","scale":{"domain":[0.0021,0.2235],"nice":false,"zero":false,"round":true},"axis":{"ticks":false,"labels":false,"title":null}},"y":{"field":"y","type":"quantitative","scale":{"domain":[0.01,0.3],"nice":false,"zero":false,"round":true},"axis":{"ticks":false,"labels":false,"title":null}},"color":{"field":"v","type":"quantitative","scale":{"domain":[0.43,0.99]},"legend":{"values":[0.5,0.6,0.7,0.8,0.9],"labelExpr":"''+datum.value","encode":{"labels":{"update":{"baseline":{"value":"middle"},"dx":{"value":10}}}}}}}},
{"mark":{"type":"rect","opacity":0},"encoding":{"x":{"field":"x","type":"quantitative","axis":{"orient":"top","ticks":false,"labels":false,"title":null}},"y":{"field":"y","type":"quantitative","axis":{"orient":"right","ticks":false,"labels":false,"title":null}}}}],"resolve":{"axis":{"x":"independent","y":"independent"}}},
{"width":341,"height":186,"data":{"name":"p3"},"transform":[{"lookup":"c","from":{"data":{"name":"cols"},"key":"c","fields":["x","x2"]}},{"lookup":"d","from":{"data":{"name":"bands"},"key":"d","fields":["y","y2"]}}],"encoding":{"x2":{"field":"x2"},"y2":{"field":"y2"}},
"layer":[{"mark":"rect","encoding":{"x":{"field":"x","type":"quantitative","scale":{"domain":[0.0021,0.2235],"nice":false,"zero":false,"round":true},"axis":{"ticks":false,"labels":false,"title":null}},"y":{"field":"y","type":"quantitative","scale":{"domain":[0.01,0.3],"nice":false,"zero":false,"round":true},"axis":{"values":[0.05,0.1,0.15,0.2,0.25,0.3],"title":"Def. param.","labelExpr":"''+datum.value"}},"color":{"field":"v","type":"quantitative","scale":{"domain":[-2.1,0.095]},"legend":{"values":[-2,-1.5,-1,-0.5,0],"labelExpr":"''+datum.value","encode":{"labels":{"update":{"baseline":{"value":"middle"},"dx":{"value":10}}}}}}}},
{"mark":{"type":"rect","opacity":0},"encoding":{"x":{"field":"x","type":"quantitative","axis":{"orient":"top","ticks":false,"labels":false,"title":null}},"y":{"field":"y","type":"quantitative","axis":{"orient":"right","values":[0.05,0.1,0.15,0.2,0.25,0.3],"labels":false,"title":null}}}}],"resolve":{"axis":{"x":"independent","y":"independent"}}},
{"width":341,"height":186,"data":{"name":"p4"},"transform":[{"lookup":"c","from":{"data":{"name":"cols"},"key":"c","fields":["x","x2"]}},{"lookup":"d","from":{"data":{"name":"bands"},"key":"d","fields":["y","y2"]}}],"encoding":{"x2":{"field":"x2"},"y2":{"field":"y2"}},
"layer":[{"mark":"rect","encoding":{"x":{"field":"x","type":"quantitative","scale":{"domain":[0.0021,0.2235],"nice":false,"zero":false,"round":true},"axis":{"ticks":false,"labels":false,"title":null}},"y":{"field":"y","type":"quantitative","scale":{"domain":[0.01,0.3],"nice":false,"zero":false,"round":true},"axis":{"ticks":false,"labels":false,"title":null}},"color":{"field":"v","type":"quantitative","scale":{"domain":[-0.22,-0.01]},"legend":{"values":[-0.2,-0.15,-0.1,-0.05],"labelExpr":"''+datum.value","encode":{"labels":{"update":{"baseline":{"value":"middle"},"dx":{"value":10}}}}}}}},
{"mark":{"type":"rect","opacity":0},"encoding":{"x":{"field":"x","type":"quantitative","axis":{"orient":"top","ticks":false,"labels":false,"title":null}},"y":{"field":"y","type":"quantitative","axis":{"orient":"right","ticks":false,"labels":false,"title":null}}}}],"resolve":{"axis":{"x":"independent","y":"independent"}}},
{"width":341,"height":186,"data":{"name":"p5"},"transform":[{"lookup":"c","from":{"data":{"name":"cols"},"key":"c","fields":["x","x2"]}},{"lookup":"d","from":{"data":{"name":"bands"},"key":"d","fields":["y","y2"]}}],"encoding":{"x2":{"field":"x2"},"y2":{"field":"y2"}},
"layer":[{"mark":"rect","encoding":{"x":{"field":"x","type":"quantitative","scale":{"domain":[0.0021,0.2235],"nice":false,"zero":false,"round":true},"axis":{"values":[0.05,0.1,0.15,0.2],"title":"Imag (Refractive Index), n_i","labelExpr":"''+datum.value"}},"y":{"field":"y","type":"quantitative","scale":{"domain":[0.01,0.3],"nice":false,"zero":false,"round":true},"axis":{"values":[0.05,0.1,0.15,0.2,0.25,0.3],"title":"Def. param.","labelExpr":"''+datum.value"}},"color":{"field":"v","type":"quantitative","scale":{"domain":[-0.7,0.088]},"legend":{"values":[-0.7,-0.6,-0.5,-0.4,-0.3,-0.2,-0.1,0],"labelExpr":"''+datum.value","encode":{"labels":{"update":{"baseline":{"value":"middle"},"dx":{"value":10}}}}}}}},
{"mark":{"type":"rect","opacity":0},"encoding":{"x":{"field":"x","type":"quantitative","axis":{"orient":"top","values":[0.05,0.1,0.15,0.2],"labels":false,"title":null}},"y":{"field":"y","type":"quantitative","axis":{"orient":"right","values":[0.05,0.1,0.15,0.2,0.25,0.3],"labels":false,"title":null}}}}],"resolve":{"axis":{"x":"independent","y":"independent"}}},
{"width":341,"height":186,"data":{"name":"p6"},"transform":[{"lookup":"c","from":{"data":{"name":"cols"},"key":"c","fields":["x","x2"]}},{"lookup":"d","from":{"data":{"name":"bands"},"key":"d","fields":["y","y2"]}}],"encoding":{"x2":{"field":"x2"},"y2":{"field":"y2"}},
"layer":[{"mark":"rect","encoding":{"x":{"field":"x","type":"quantitative","scale":{"domain":[0.0021,0.2235],"nice":false,"zero":false,"round":true},"axis":{"values":[0.05,0.1,0.15,0.2],"title":"Imag (Refractive Index), n_i","labelExpr":"''+datum.value"}},"y":{"field":"y","type":"quantitative","scale":{"domain":[0.01,0.3],"nice":false,"zero":false,"round":true},"axis":{"ticks":false,"labels":false,"title":null}},"color":{"field":"v","type":"quantitative","scale":{"domain":[0,0.024]},"legend":{"values":[0,0.005,0.01,0.015,0.02],"labelExpr":"''+datum.value","encode":{"labels":{"update":{"baseline":{"value":"middle"},"dx":{"value":10}}}}}}}},
{"mark":{"type":"rect","opacity":0},"encoding":{"x":{"field":"x","type":"quantitative","axis":{"orient":"top","values":[0.05,0.1,0.15,0.2],"labels":false,"title":null}},"y":{"field":"y","type":"quantitative","axis":{"orient":"right","ticks":false,"labels":false,"title":null}}}}],"resolve":{"axis":{"x":"independent","y":"independent"}}}
]}
